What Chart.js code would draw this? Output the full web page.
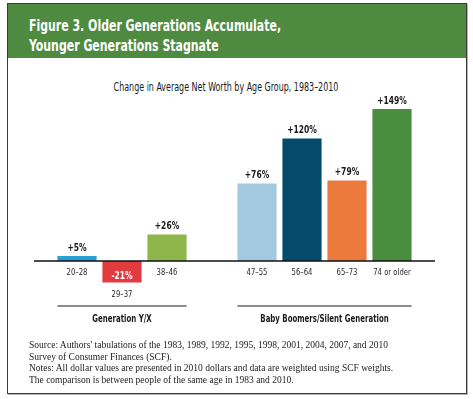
<!DOCTYPE html>
<html>
<head>
<meta charset="utf-8">
<script src="https://cdn.jsdelivr.net/npm/chart.js@4.4.1/dist/chart.umd.min.js"></script>
<style>
    html, body { margin: 0; padding: 0; background: #fff; width: 473px; height: 399px; overflow: hidden; }
    .frame { position: absolute; left: 7px; top: 3px; width: 458px; height: 389px; border: 1px solid #3a3a3a; box-shadow: 1px 1px 0 #b5b5b5; }
    .head { position: absolute; left: 0; top: 0; width: 458px; height: 54px; background: #4e8b40; }
    .head div { position: absolute; left: 21px; top: 12px; white-space: nowrap; color: #fff;
                font: bold 15.5px "DejaVu Sans Condensed", sans-serif; line-height: 20px;
                transform: scaleX(0.785); transform-origin: 0 0; }
    .subtitle { position: absolute; left: 0; top: 80px; width: 452px; text-align: center; color: #1a1a1a;
                font: 11.5px "DejaVu Sans Condensed", sans-serif; transform: scaleX(0.77); transform-origin: 226px 0; }
    .notes { position: absolute; left: 29px; top: 340px; color: #222; font: 9.5px "Liberation Serif", serif; line-height: 11.7px; }
    canvas { position: absolute; left: 0; top: 0; }
</style>
</head>
<body>
<div class="frame">
    <div class="head"><div>Figure 3. Older Generations Accumulate,<br>Younger Generations Stagnate</div></div>
</div>
<div class="subtitle">Change in Average Net Worth by Age Group, 1983–2010</div>
<canvas id="netWorthChart" width="473" height="399"></canvas>
<div class="notes">
    Source: Authors' tabulations of the 1983, 1989, 1992, 1995, 1998, 2001, 2004, 2007, and 2010<br>
    Survey of Consumer Finances (SCF).<br>
    Notes: All dollar values are presented in 2010 dollars and data are weighted using SCF weights.<br>
    The comparison is between people of the same age in 1983 and 2010.
</div>
<script>
// age groups (blank slot separates the two generations)
const ageGroups = ['20–28', '29–37', '38–46', '', '47–55', '56–64', '65–73', '74 or older'];
const pctChange = [5, -21, 26, null, 76, 120, 79, 149];
const barColors = ['#2a9fd1', '#e13a3f', '#8db64b', '#ffffff', '#a3c9e0', '#034a6b', '#ec7a3c', '#4a8d3f'];
const generations = ['Generation Y/X', 'Baby Boomers/Silent Generation'];
const generationSpans = [[0, 2], [4, 7]];

const narrow = '"DejaVu Sans Condensed", sans-serif';

// the original uses a very condensed face, so squeeze the text horizontally
const squeezeText = (ctx, text, x, y, sx) => {
    ctx.save();
    ctx.translate(x, y);
    ctx.scale(sx, 1);
    ctx.fillText(text, 0, 0);
    ctx.restore();
};

const annotate = {
    id: 'annotate',
    afterDatasetsDraw(chart) {
        const ctx = chart.ctx;
        const area = chart.chartArea;
        const zeroY = chart.scales.y.getPixelForValue(0);
        const bars = chart.getDatasetMeta(0).data;

        ctx.save();
        // baseline
        ctx.strokeStyle = '#111';
        ctx.lineWidth = 1.5;
        ctx.beginPath();
        ctx.moveTo(area.left - 20.5, zeroY);
        ctx.lineTo(area.right + 20.5, zeroY);
        ctx.stroke();

        ctx.textAlign = 'center';
        ctx.textBaseline = 'middle';
        bars.forEach((bar, i) => {
            const v = pctChange[i];
            if (v === null) return;
            const label = (v > 0 ? '+' : '') + v + '%';
            ctx.font = 'bold 10.5px ' + narrow;
            if (v >= 0) {
                ctx.fillStyle = '#1a1a1a';
                squeezeText(ctx, label, bar.x, bar.y - 8, 0.8);
            } else {
                ctx.fillStyle = '#fff';
                squeezeText(ctx, label, bar.x, bar.y - 6, 0.8);
            }
            ctx.font = '9.5px ' + narrow;
            ctx.fillStyle = '#2a2a2a';
            const below = v >= 0 ? zeroY : bar.y;
            squeezeText(ctx, ageGroups[i], bar.x, below + 12, 0.8);
        });

        // generation brackets
        generations.forEach((name, g) => {
            const first = bars[generationSpans[g][0]];
            const last = bars[generationSpans[g][1]];
            const x0 = first.x - first.width / 2;
            const x1 = last.x + last.width / 2;
            ctx.strokeStyle = '#8c8c8c';
            ctx.lineWidth = 2;
            ctx.beginPath();
            ctx.moveTo(x0, zeroY + 45);
            ctx.lineTo(x1, zeroY + 45);
            ctx.stroke();
            ctx.font = 'bold 10.5px ' + narrow;
            ctx.fillStyle = '#1a1a1a';
            squeezeText(ctx, name, (x0 + x1) / 2, zeroY + 58, 0.74);
        });
        ctx.restore();
    }
};

new Chart(document.getElementById('netWorthChart'), {
    type: 'bar',
    data: {
        labels: ageGroups,
        datasets: [{
            data: pctChange,
            backgroundColor: barColors,
            borderWidth: 0,
            barPercentage: 0.87,
            categoryPercentage: 1
        }]
    },
    options: {
        responsive: false,
        animation: false,
        devicePixelRatio: 1,
        layout: { padding: { left: 54.5, right: 58.5, top: 97.8, bottom: 107.4 } },
        plugins: { legend: { display: false }, tooltip: { enabled: false } },
        scales: {
            x: { display: false, offset: true },
            y: { display: false, min: -30, max: 160 }
        }
    },
    plugins: [annotate]
});
</script>
</body>
</html>
